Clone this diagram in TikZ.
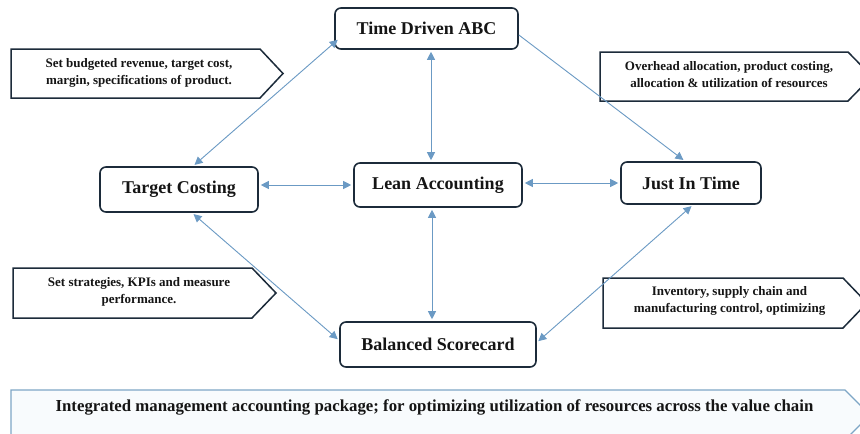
\documentclass[tikz,border=0pt]{standalone}
\usepackage{fontspec}
\setmainfont{Liberation Serif}
\usetikzlibrary{arrows.meta}
\definecolor{navy}{HTML}{1C2B3A}
\definecolor{arrc}{HTML}{6B9AC4}
\definecolor{barline}{HTML}{7EA6C6}
\definecolor{barfill}{HTML}{F8FBFD}
\definecolor{txt}{HTML}{151515}
\tikzset{
  mainbox/.style={draw=navy, line width=1.6pt, rounded corners=6pt, fill=white,
    text=txt, font=\rmfamily\fontsize{18}{20}\selectfont\bfseries, inner sep=0pt},
  callbox/.style={draw=navy, line width=1.5pt, fill=white, line join=miter},
  calltext/.style={text=txt, font=\rmfamily\fontsize{13}{17}\selectfont\bfseries, align=center, inner sep=0pt},
  arr/.style={draw=arrc, line width=0.9pt, shorten >=2pt, shorten <=2pt,
    {Triangle[length=8pt,width=8pt]}-{Triangle[length=8pt,width=8pt]}},
  arrone/.style={draw=arrc, line width=0.9pt, shorten >=2pt,
    -{Triangle[length=8pt,width=8pt]}},
}
\begin{document}
\begin{tikzpicture}[x=1pt,y=-1pt]
\clip (0,0) rectangle (860,434);
\fill[white] (0,0) rectangle (860,434);

% callouts
\draw[callbox] (11,49) -- (260,49) -- (283,73.5) -- (260,98) -- (11,98) -- cycle;
\node[calltext] (c1) at (139,73) {Set budgeted revenue, target cost,\\margin, specifications of product.};

\draw[callbox] (600,52) -- (848,52) -- (872,76.5) -- (848,101) -- (600,101) -- cycle;
\node[calltext] (c2) at (729,75) {Overhead allocation, product costing,\\allocation \& utilization of resources};

\draw[callbox] (13,268) -- (252,268) -- (276,293) -- (252,318) -- (13,318) -- cycle;
\node[calltext] (c3) at (139,292) {Set strategies, KPIs and measure\\performance.};

\draw[callbox] (603,278) -- (843,278) -- (867,303) -- (843,328) -- (603,328) -- cycle;
\node[calltext] (c4) at (729.5,301) {Inventory, supply chain and\\manufacturing control, optimizing};

% bottom bar
\draw[draw=barline, line width=1.3pt, fill=barfill] (11,390) -- (845,390) -- (870,415) -- (845,440) -- (11,440) -- cycle;
\node[text=txt, font=\rmfamily\fontsize{16.8}{20}\selectfont\bfseries, inner sep=0pt] (bar) at (434.5,407)
  {Integrated management accounting package; for optimizing utilization of resources across the value chain};

% main nodes
\node[mainbox, minimum width=183pt, minimum height=41pt] (TD) at (426.5,28.5) {Time Driven ABC};
\node[mainbox, minimum width=158pt, minimum height=45pt] (TC) at (179,189.5) {Target Costing};
\node[mainbox, minimum width=168pt, minimum height=44pt] (LA) at (438,185) {Lean Accounting};
\node[mainbox, minimum width=140pt, minimum height=42pt] (JIT) at (691,183) {Just In Time};
\node[mainbox, minimum width=196pt, minimum height=45pt] (BS) at (438,344.5) {Balanced Scorecard};

% connectors
\draw[arr] ([xshift=-7pt]LA.north |- TD.south) -- ([xshift=-7pt]LA.north);
\draw[arr] ([xshift=-6pt]LA.south) -- ([xshift=-6pt]LA.south |- BS.north);
\draw[arr] (TC.east |- LA.west) -- (LA.west);
\draw[arr] (LA.east |- JIT.west) -- (JIT.west);
\draw[arr] ([shift={(5pt,3pt)}]TD.188) -- ([xshift=14pt]TC.north);
\draw[arrone] (TD.-4) -- ([xshift=-6pt]JIT.north);
\draw[arr] ([xshift=13pt]TC.south) -- ([yshift=4pt]BS.west);
\draw[arr] ([xshift=2pt]JIT.south) -- ([yshift=2pt]BS.east);
\end{tikzpicture}
\end{document}
